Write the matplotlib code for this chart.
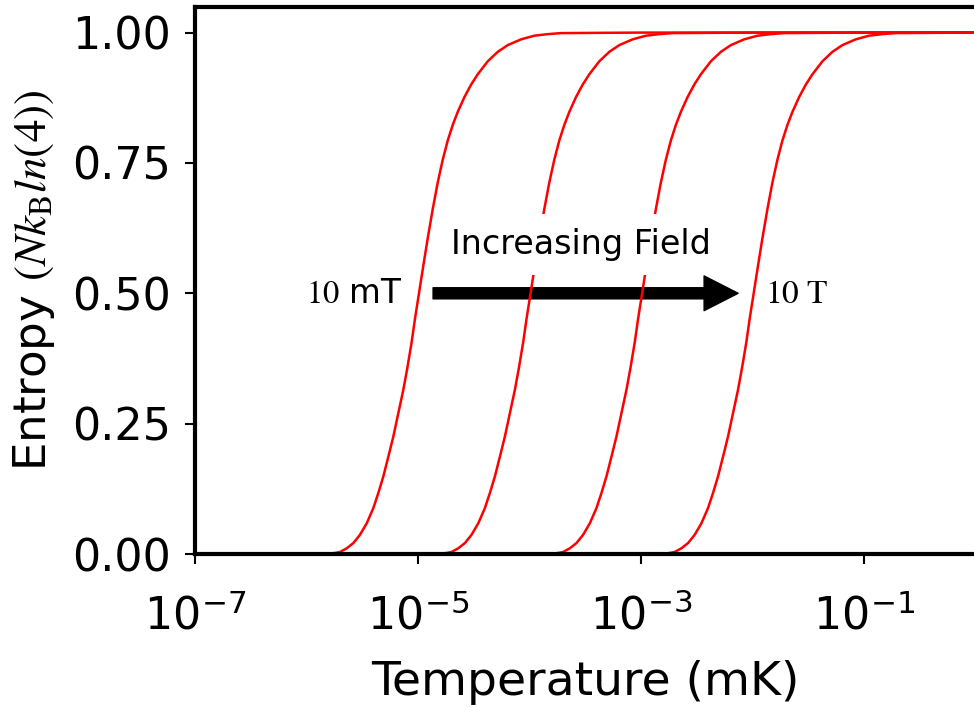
import numpy as np
import matplotlib
matplotlib.use('Agg')
import matplotlib.pyplot as plt
from matplotlib.ticker import NullLocator, FormatStrFormatter

# entropy (in units of N k_B ln4), same levels read for every field curve
entropy = [0, 0, 0.001, 0.002, 0.004, 0.011, 0.021, 0.037, 0.059, 0.088, 0.117, 0.149,
           0.187, 0.225, 0.270, 0.315, 0.357, 0.407, 0.452, 0.494, 0.546, 0.606, 0.662,
           0.712, 0.756, 0.793, 0.823, 0.848, 0.876, 0.900, 0.920, 0.945, 0.963, 0.976,
           0.987, 0.994, 0.997, 0.999, 1.0, 1.0]

# log10 of temperature (mK)
logT_10mT = [-7.0, -6.2, -5.787, -5.742, -5.697, -5.637, -5.578, -5.518, -5.458, -5.399,
             -5.354, -5.309, -5.264, -5.220, -5.175, -5.130, -5.094, -5.055, -5.025, -4.994,
             -4.956, -4.911, -4.866, -4.822, -4.777, -4.732, -4.687, -4.642, -4.583, -4.523,
             -4.463, -4.373, -4.284, -4.194, -4.075, -3.956, -3.836, -3.716, -3.0, 1.0]
logT_100mT = [-7.0, -5.2, -4.787, -4.742, -4.697, -4.637, -4.578, -4.518, -4.458, -4.399,
              -4.354, -4.309, -4.264, -4.220, -4.175, -4.130, -4.094, -4.055, -4.025, -3.994,
              -3.956, -3.911, -3.866, -3.822, -3.777, -3.732, -3.687, -3.642, -3.583, -3.523,
              -3.463, -3.373, -3.284, -3.194, -3.075, -2.956, -2.836, -2.716, -2.0, 1.0]
logT_1T = [-7.0, -4.2, -3.787, -3.742, -3.697, -3.637, -3.578, -3.518, -3.458, -3.399,
           -3.354, -3.309, -3.264, -3.220, -3.175, -3.130, -3.094, -3.055, -3.025, -2.994,
           -2.956, -2.911, -2.866, -2.822, -2.777, -2.732, -2.687, -2.642, -2.583, -2.523,
           -2.463, -2.373, -2.284, -2.194, -2.075, -1.956, -1.836, -1.716, -1.0, 1.0]
logT_10T = [-7.0, -3.2, -2.787, -2.742, -2.697, -2.637, -2.578, -2.518, -2.458, -2.399,
            -2.354, -2.309, -2.264, -2.220, -2.175, -2.130, -2.094, -2.055, -2.025, -1.994,
            -1.956, -1.911, -1.866, -1.822, -1.777, -1.732, -1.687, -1.642, -1.583, -1.523,
            -1.463, -1.373, -1.284, -1.194, -1.075, -0.956, -0.836, -0.716, 0.0, 1.0]

xticks = [1e-7, 1e-5, 1e-3, 1e-1]
yticks = [0, 0.25, 0.5, 0.75, 1.0]

plt.rcParams['mathtext.fontset'] = 'stix'

fig = plt.figure(figsize=(9.74, 7.07), dpi=100)
ax = fig.add_axes([0.1999, 0.2164, 0.8018, 0.7744])

for logT in [logT_10mT, logT_100mT, logT_1T, logT_10T]:
    ax.plot(10 ** np.array(logT), entropy, color='red', lw=1.8)

ax.set_xscale('log')
ax.set_xlim(1e-7, 1)
ax.set_ylim(0, 1.05)
ax.set_xticks(xticks)
ax.xaxis.set_minor_locator(NullLocator())
ax.set_yticks(yticks)
ax.yaxis.set_major_formatter(FormatStrFormatter('%.2f'))

for sp in ax.spines.values():
    sp.set_linewidth(3)
ax.tick_params(axis='both', width=1.5, length=7)
ax.tick_params(axis='y', labelsize=32, pad=10)
ax.tick_params(axis='x', labelsize=32, pad=22)

ax.set_xlabel('Temperature (mK)', fontsize=34, va='center')
ax.xaxis.set_label_coords(0.5, -0.234)
ax.set_ylabel(r'Entropy $(Nk_\mathrm{B}ln(4))$', fontsize=32.5, va='center')
ax.yaxis.set_label_coords(-0.206, 0.5)

# annotations
ax.text(2.9e-4, 0.593, 'Increasing Field', fontsize=24, ha='center', va='center',
        bbox=dict(facecolor='white', edgecolor='none', pad=10))
ax.text(7.3e-6, 0.5, '$10$ mT', fontsize=23.5, ha='right', va='center')
ax.text(1.3e-2, 0.5, r'$10\ \mathrm{T}$', fontsize=24, ha='left', va='center')
ax.annotate('', xy=(7.43e-3, 0.5), xytext=(1.37e-5, 0.5),
            arrowprops=dict(arrowstyle='simple,head_length=0.98,head_width=1.0,tail_width=0.32',
                            fc='black', ec='black', shrinkA=0, shrinkB=0, mutation_scale=25),
            zorder=1)

fig.savefig('out.png', dpi=100)
